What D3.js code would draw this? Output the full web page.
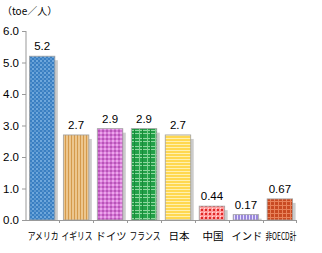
<!DOCTYPE html>
<html>
<head>
<meta charset="utf-8">
<script src="https://cdn.jsdelivr.net/npm/d3@7"></script>
<style>
  body { margin: 0; background: #fff; }
  text { font-family: "Liberation Sans", Arial, sans-serif; }
  .cat text, .unit { font-family: "Noto Sans CJK JP", sans-serif; }
</style>
</head>
<body>
<svg id="chart" width="322" height="253"></svg>
<script>
// data
const countries = ["アメリカ", "イギリス", "ドイツ", "フランス", "日本", "中国", "インド", "非OECD計"];
const values = [5.2, 2.7, 2.9, 2.9, 2.7, 0.44, 0.17, 0.67];
const valueLabels = ["5.2", "2.7", "2.9", "2.9", "2.7", "0.44", "0.17", "0.67"];
const yTicks = [0, 1, 2, 3, 4, 5, 6];
const unitLabel = "（toe／人）";

const svg = d3.select("#chart");
const defs = svg.append("defs");

// fill patterns, one per bar
function makePattern(id, w, h, bg, draw) {
  const p = defs.append("pattern")
    .attr("id", id)
    .attr("patternUnits", "userSpaceOnUse")
    .attr("width", w).attr("height", h);
  p.append("rect").attr("width", w).attr("height", h).attr("fill", bg);
  draw(p);
}
function px(p, x, y, w, h, c) {
  p.append("rect").attr("x", x).attr("y", y).attr("width", w).attr("height", h).attr("fill", c);
}

makePattern("p0", 4, 4, "#3a7fc2", p => { px(p, 0, 0, 2, 2, "#6ea7dc"); px(p, 2, 2, 2, 2, "#5b97d0"); });
makePattern("p1", 3, 3, "#ecc68e", p => { px(p, 2, 0, 1, 3, "#d49a4c"); });
makePattern("p2", 4, 4, "#d677d6", p => { px(p, 0, 0, 2, 2, "#eba6eb"); px(p, 2, 2, 2, 2, "#b854b8"); });
makePattern("p3", 8, 8, "#22a048", p => { px(p, 0, 2, 8, 1, "#8fd8a0"); px(p, 0, 5, 8, 1, "#8fd8a0"); px(p, 3, 0, 1, 8, "#7fd090"); px(p, 6, 0, 1, 8, "#1a8a3a"); });
makePattern("p4", 3, 3, "#ffd850", p => { px(p, 0, 0, 3, 1, "#fff0b0"); });
makePattern("p5", 4, 4, "#ff9c9c", p => { px(p, 1, 1, 2, 2, "#e02828"); px(p, 0, 0, 1, 1, "#ffe0e0"); });
makePattern("p6", 3, 3, "#9a88dc", p => { px(p, 0, 0, 1, 3, "#e8e0ff"); });
makePattern("p7", 4, 4, "#c84a22", p => { px(p, 0, 1, 4, 1, "#e8825a"); px(p, 2, 0, 1, 4, "#e8825a"); });

const x0 = 26, x1 = 296, yTop = 31, yBase = 220;

const x = d3.scaleBand()
  .domain(countries)
  .range([x0, x1])
  .paddingInner(0.25)
  .paddingOuter(0.1);

const y = d3.scaleLinear()
  .domain([0, 6])
  .range([yBase, yTop]);

// unit label
svg.append("text")
  .attr("class", "unit")
  .attr("x", 2).attr("y", 15)
  .attr("font-size", 10)
  .text(unitLabel);

// y axis
const yAxis = svg.append("g")
  .attr("transform", `translate(${x0},0)`)
  .call(d3.axisLeft(y).tickValues(yTicks).tickFormat(d3.format(".1f")).tickSize(4).tickPadding(3));
yAxis.select(".domain").attr("stroke", "#999").attr("d", `M0,${yTop}V${yBase}`);
yAxis.selectAll(".tick line").attr("stroke", "#999");
yAxis.selectAll(".tick text").attr("font-size", 11.5).attr("fill", "#000")
  .attr("font-family", "Liberation Sans, Arial, sans-serif");

// shadows
const shadowDx = 3, shadowDy = 4;
svg.append("g").selectAll("rect")
  .data(countries)
  .join("rect")
  .attr("x", d => x(d) + shadowDx)
  .attr("y", (d, i) => y(values[i]) + shadowDy)
  .attr("width", x.bandwidth())
  .attr("height", (d, i) => Math.max(0, yBase - y(values[i]) - shadowDy))
  .attr("fill", "#cccccc");

// bars
svg.append("g").selectAll("rect")
  .data(countries)
  .join("rect")
  .attr("x", d => x(d))
  .attr("y", (d, i) => y(values[i]))
  .attr("width", x.bandwidth())
  .attr("height", (d, i) => yBase - y(values[i]))
  .attr("fill", (d, i) => `url(#p${i})`)
  .attr("stroke", "#a0a0a0")
  .attr("stroke-width", 0.8);

// x axis line + ticks between categories
const bounds = countries.map(d => x(d) - x.step() * x.paddingInner() / 2).concat([x1]);
svg.append("line")
  .attr("x1", x0).attr("x2", x1)
  .attr("y1", yBase + 0.5).attr("y2", yBase + 0.5)
  .attr("stroke", "#999");
svg.append("g").selectAll("line")
  .data(bounds.slice(1))
  .join("line")
  .attr("x1", d => Math.round(d) + 0.5).attr("x2", d => Math.round(d) + 0.5)
  .attr("y1", yBase).attr("y2", yBase + 3)
  .attr("stroke", "#999");

// value labels
svg.append("g").selectAll("text")
  .data(countries)
  .join("text")
  .attr("x", d => x(d) + x.bandwidth() / 2)
  .attr("y", (d, i) => y(values[i]) - 6)
  .attr("text-anchor", "middle")
  .attr("font-size", 11.5)
  .text((d, i) => valueLabels[i]);

// category labels, squeezed horizontally to fit the band step
const catLabels = svg.append("g").attr("class", "cat").selectAll("text")
  .data(countries)
  .join("text")
  .attr("text-anchor", "middle")
  .attr("font-size", 10.5)
  .text(d => d);
catLabels.each(function (d) {
  const w = this.getComputedTextLength();
  const maxW = x.step() - 3;
  const k = w > maxW ? maxW / w : 1;
  d3.select(this).attr("transform",
    `translate(${x(d) + x.bandwidth() / 2 + 1},240) scale(${k},1)`);
});
</script>
</body>
</html>
